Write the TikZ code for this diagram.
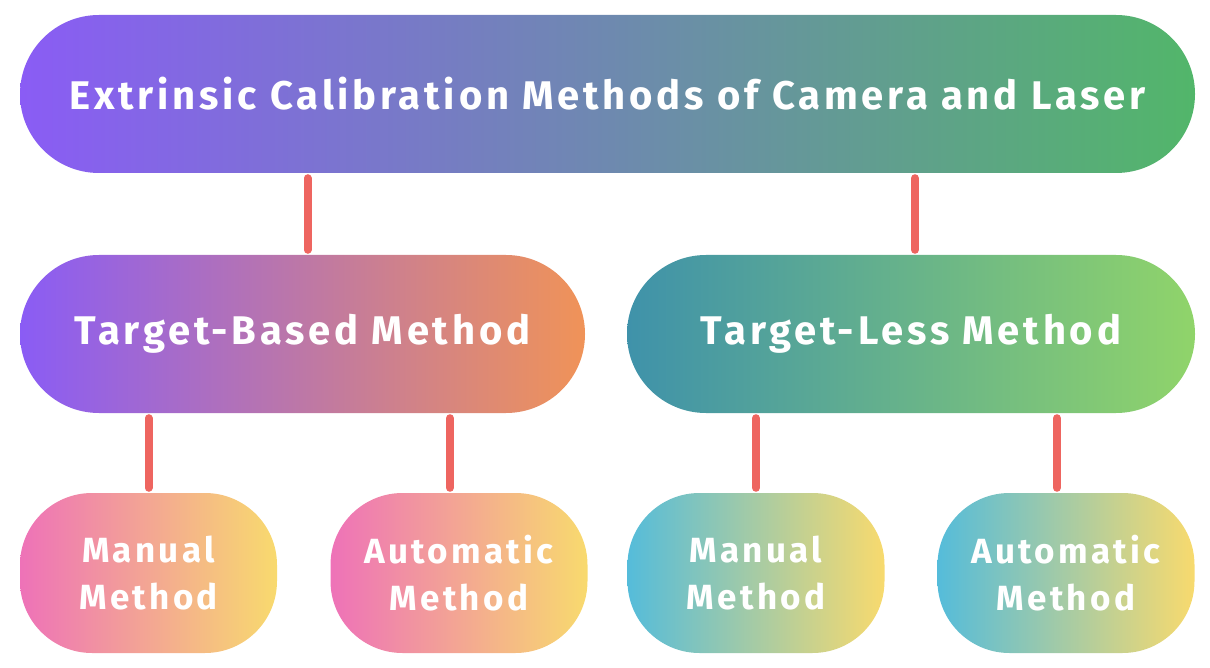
\documentclass[tikz,border=0pt]{standalone}
\usepackage{fontspec}
\setmainfont{Fira Sans}[LetterSpace=9.5]
\usepackage{tikz}
\usetikzlibrary{shapes.misc,positioning}
\definecolor{purp}{HTML}{8A5CF5}
\definecolor{grn}{HTML}{52B66A}
\definecolor{orng}{HTML}{F09358}
\definecolor{teal}{HTML}{3F92AA}
\definecolor{lime}{HTML}{90D46A}
\definecolor{pink}{HTML}{EE72B8}
\definecolor{sky}{HTML}{55BCDA}
\definecolor{yell}{HTML}{F8DA6E}
\definecolor{linkred}{HTML}{EE6560}

\begin{document}
\begin{tikzpicture}[x=1pt, y=-1pt]
\tikzstyle{pill}=[rounded rectangle, inner sep=0pt, text=white, minimum height=158pt, font=\bfseries\fontsize{40}{48}\selectfont]
\tikzstyle{leaf}=[rectangle, rounded corners=72pt, inner sep=0pt, text=white, minimum width=257pt, minimum height=160pt, align=center, font=\bfseries\fontsize{35}{47}\selectfont]
\tikzstyle{link}=[draw=linkred, line width=8pt, line cap=round, shorten <=5pt, shorten >=5pt]
\useasboundingbox (0,0) rectangle (1210,668);

\node[pill, minimum width=1175pt, left color=purp, right color=grn] (1) at (607.5,94) {Extrinsic Calibration Methods of Camera and Laser};
\node[pill, minimum width=565pt, left color=purp, right color=orng] (2) at (302.5,334) {Target-Based Method};
\node[pill, minimum width=568pt, left color=teal, right color=lime] (3) at (911,334) {Target-Less Method};
\node[leaf, left color=pink, right color=yell] (4) at (148.5,573) {Manual\\Method};
\node[leaf, left color=pink, right color=yell] (5) at (459,573) {Automatic\\Method};
\node[leaf, left color=sky, right color=yell] (6) at (756,573) {Manual\\Method};
\node[leaf, left color=sky, right color=yell] (7) at (1066,573) {Automatic\\Method};

\draw[link] ([xshift=5pt]2.north) -- ([xshift=5pt]2.north |- 1.south);
\draw[link] ([xshift=4pt]3.north) -- ([xshift=4pt]3.north |- 1.south);
\draw[link] (4.north) -- (4.north |- 2.south);
\draw[link] ([xshift=-9pt]5.north) -- ([xshift=-9pt]5.north |- 2.south);
\draw[link] (6.north) -- (6.north |- 3.south);
\draw[link] ([xshift=-9pt]7.north) -- ([xshift=-9pt]7.north |- 3.south);
\end{tikzpicture}
\end{document}
